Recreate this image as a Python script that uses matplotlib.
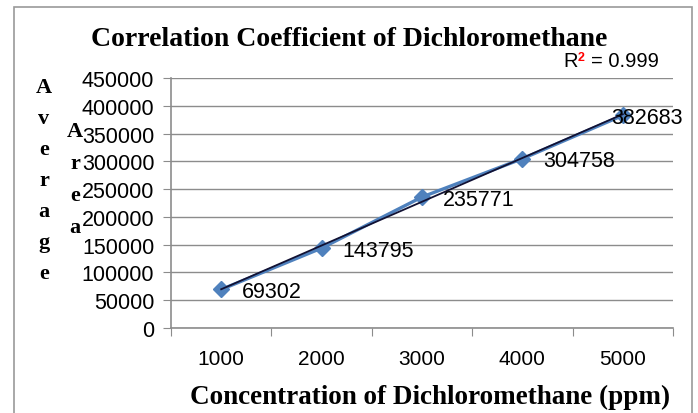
import numpy as np
import matplotlib.pyplot as plt
from matplotlib.patches import Rectangle

# values
conc = ['1000', '2000', '3000', '4000', '5000']
avg_area = [69302, 143795, 235771, 304758, 382683]
yticks = list(range(0, 450001, 50000))
label_shift = [21, 21, 21, 21, -12]   # px, excel nudged the last label

serif = 'Liberation Serif'
sans = 'Liberation Sans'
blue = '#4F81BD'
grey = '#8C8C8C'

fig = plt.figure(figsize=(6.98, 4.14), dpi=100)
ax = fig.add_axes([171/698, 1-329/414, (673-171)/698, (329-79)/414])

x = np.arange(len(conc))
ax.plot(x, avg_area, color=blue, lw=2.4, marker='D', ms=8, mec=blue, mfc=blue, zorder=3)

# linear trend line
k, b = np.polyfit(x + 1, avg_area, 1)
ax.plot(x, k*(x + 1) + b, color='#111133', lw=1.3, zorder=4)

for i, v in enumerate(avg_area):
    ax.annotate(str(v), (x[i], v), xytext=(label_shift[i], -2), textcoords='offset pixels',
                ha='left', va='center', fontsize=15.5, family=sans, zorder=5)

ax.set_xlim(-0.5, len(conc) - 0.5)
ax.set_ylim(0, 450000)
ax.set_yticks(yticks)
ax.set_yticklabels([str(t) for t in yticks])
ax.yaxis.grid(True, color=grey, lw=1)
ax.set_axisbelow(True)

ax.set_xticks(np.arange(-0.5, len(conc)), labels=[])
ax.set_xticks(x, labels=conc, minor=True)
ax.tick_params(axis='x', which='major', length=6, color=grey, direction='out')
ax.tick_params(axis='x', which='minor', length=0, pad=15, labelsize=15)
ax.tick_params(axis='y', length=6, color=grey, pad=6, labelsize=15.5)
for t in ax.get_xticklabels(minor=True) + ax.get_yticklabels():
    t.set_family(sans)

for s in ['top', 'right']:
    ax.spines[s].set_visible(False)
for s in ['left', 'bottom']:
    ax.spines[s].set_color(grey)
    ax.spines[s].set_linewidth(1.2)

fig.text(349/698, 1-39/414, 'Correlation Coefficient of Dichloromethane', ha='center', va='center',
         fontsize=20, fontweight='bold', family=serif)
fig.text(430/698, 1-397/414, 'Concentration of Dichloromethane (ppm)', ha='center', va='center',
         fontsize=19.5, fontweight='bold', family=serif)

# stacked y label (two overlapping versions as in the original)
for i, ch in enumerate('Average'):
    fig.text(44/698, 1-(88 + 31*i)/414, ch, ha='center', va='center', fontsize=16,
             fontweight='bold', family=serif)
for i, ch in enumerate('Area'):
    fig.text(75/698, 1-(132 + 32*i)/414, ch, ha='center', va='center', fontsize=16,
             fontweight='bold', family=serif)

# R^2 with the red superscript
fig.text(563/698, 1-67/414, 'R', ha='left', va='baseline', fontsize=14.5, family=sans)
fig.text(578/698, 1-61/414, '2', ha='left', va='baseline', fontsize=9, fontweight='bold',
         color='red', family=sans)
fig.text(591/698, 1-67/414, '= 0.999', ha='left', va='baseline', fontsize=14.5, family=sans)

fig.patches.append(Rectangle((14/698, -0.05), (692-14)/698, 1.05-8/414, transform=fig.transFigure,
                             fill=False, ec='#9A9A9A', lw=1.2))

fig.savefig('out.png', dpi=100)
